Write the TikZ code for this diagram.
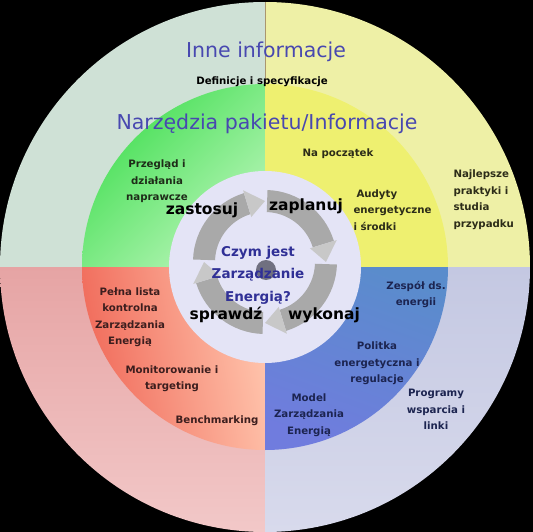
\documentclass[tikz,border=0pt]{standalone}
\usepackage{fontspec}
\setmainfont{DejaVu Sans}
\usetikzlibrary{calc}
\definecolor{otl}{RGB}{207,225,214}
\definecolor{otr}{RGB}{238,240,166}
\definecolor{oblA}{RGB}{230,164,164}
\definecolor{oblB}{RGB}{242,200,200}
\definecolor{obrA}{RGB}{196,200,226}
\definecolor{obrB}{RGB}{216,218,236}
\definecolor{igA}{RGB}{64,222,80}
\definecolor{igB}{RGB}{184,245,184}
\definecolor{iy}{RGB}{238,240,112}
\definecolor{irA}{RGB}{240,104,88}
\definecolor{irB}{RGB}{255,196,172}
\definecolor{ibA}{RGB}{90,140,204}
\definecolor{ibB}{RGB}{112,124,222}
\definecolor{ccirc}{RGB}{228,228,246}
\definecolor{abody}{RGB}{169,169,169}
\definecolor{ahead}{RGB}{200,200,200}
\definecolor{hubc}{RGB}{112,112,128}
\definecolor{sepc}{RGB}{170,150,110}
\definecolor{ttl}{RGB}{72,72,176}
\definecolor{czymc}{RGB}{48,48,150}
\definecolor{tg}{RGB}{30,44,24}
\definecolor{ty}{RGB}{44,44,24}
\definecolor{tr}{RGB}{60,30,30}
\definecolor{tb}{RGB}{28,36,80}
\newcommand\ringarrow[3]{%
  \fill[abody] ($(A)+(#1:72)$) arc[start angle=#1, end angle=#2, radius=72]
     -- ($(A)+(#2:50)$) arc[start angle=#2, end angle=#1, radius=50] -- cycle;
  \fill[ahead] ($(A)+(#2:75)$) -- ($(A)+(#3:61)$) -- ($(A)+(#2:47)$) -- cycle;
}
\begin{document}
\begin{tikzpicture}[x=1pt,y=-1pt,
  title/.style={font=\fontsize{20.5}{24}\selectfont, text=ttl},
  small/.style={font=\fontsize{10.2}{16.5}\selectfont\bfseries, align=center},
  verb/.style={font=\fontsize{15.5}{18}\selectfont\bfseries, text=black},
  czym/.style={font=\fontsize{13.5}{22.5}\selectfont\bfseries, text=czymc, align=center}]
\fill[black] (0,0) rectangle (533,532);
\useasboundingbox (0,0) rectangle (533,532);
\coordinate (C) at (265,267);
\coordinate (A) at (265,262);
% outer ring
\begin{scope}
  \clip (C) circle[radius=265];
  \fill[otl] (C) rectangle ++(-265,-265);
  \fill[otr] (C) rectangle ++(265,-265);
  \shade[top color=oblA, bottom color=oblB] (C) rectangle ++(-265,265);
  \shade[top color=obrA, bottom color=obrB] (C) rectangle ++(265,265);
\end{scope}
\draw[line width=0.6pt, sepc] (C) ++(0,-265) -- ++(0,90);
% inner ring
\begin{scope}
  \clip (C) circle[radius=183];
  \shade[top color=igA, bottom color=igB, shading angle=45] (C) rectangle ++(-183,-183);
  \fill[iy] (C) rectangle ++(183,-183);
  \shade[top color=irA, bottom color=irB, shading angle=100] (C) rectangle ++(-183,183);
  \shade[top color=ibA, bottom color=ibB, shading angle=-20] (C) rectangle ++(183,183);
\end{scope}
% centre
\fill[ccirc] (C) circle[radius=96];
\ringarrow{-178}{-107}{-90}
\ringarrow{-88}{-17}{0}
\ringarrow{2}{73}{90}
\ringarrow{92}{163}{180}
\fill[hubc] (266,270) circle[radius=10];
% texts
\node[title] (inne) at (266,52) {Inne informacje};
\node[small, text=black] (def) at (262,82) {Definicje i specyfikacje};
\node[title] (narz) at (267,124) {Narzędzia pakietu/Informacje};
\node[small, text=ty] (nap) at (338,154) {Na początek};
\node[small, text=tg] (przeg) at (157,181.5) {Przegląd i\\działania\\naprawcze};
\node[small, text=ty, align=left, anchor=west] (audyt) at (350,210) {\hspace*{3pt}Audyty\\energetyczne\\i środki};
\node[small, text=ty, align=left, anchor=west] (najl) at (450,199.5) {Najlepsze\\praktyki i\\studia\\przypadku};
\node[small, text=tr] (pelna) at (130,317) {Pełna lista\\kontrolna\\Zarządzania\\Energią};
\node[small, text=tr] (monit) at (172,378.5) {Monitorowanie i\\targeting};
\node[small, text=tr] (bench) at (217,421) {Benchmarking};
\node[small, text=tb] (zesp) at (416,294.5) {Zespół ds.\\energii};
\node[small, text=tb] (polit) at (377,363.5) {Politka\\energetyczna i\\regulacje};
\node[small, text=tb] (model) at (309,415) {Model\\Zarządzania\\Energią};
\node[small, text=tb] (progr) at (436,409.5) {Programy\\wsparcia i\\linki};
\node[czym] (czymjest) at (258,275) {Czym jest\\Zarządzanie\\Energią?};
\node[verb] (zast) at (202,210) {zastosuj};
\node[verb] (zapl) at (306,206) {zaplanuj};
\node[verb] (spr) at (226,315) {sprawdź};
\node[verb] (wyk) at (324,315) {wykonaj};
\end{tikzpicture}
\end{document}
